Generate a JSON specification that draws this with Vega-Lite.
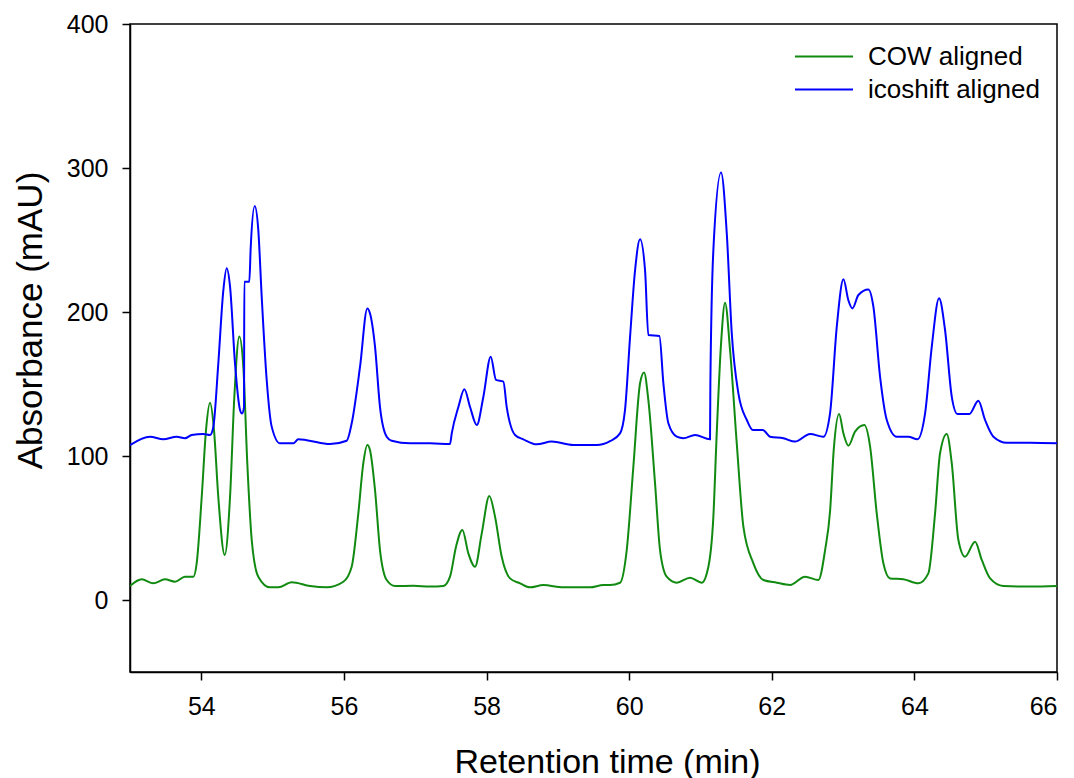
{
  "$schema": "https://vega.github.io/schema/vega-lite/v6.json",
  "autosize": "none",
  "width": 927,
  "height": 648,
  "padding": {"left": 130, "top": 24, "right": 17, "bottom": 106},
  "background": "white",
  "config": {
    "font": "Liberation Sans",
    "view": {"stroke": "black", "strokeWidth": 1.5},
    "axis": {
      "domainColor": "black", "domainWidth": 1.5,
      "tickColor": "black", "tickWidth": 1.5, "tickSize": 8,
      "labelColor": "black", "labelFontSize": 25, "labelFont": "Liberation Sans",
      "titleColor": "black", "titleFontWeight": "normal", "titleFont": "Liberation Sans",
      "grid": false
    },
    "legend": {"labelFont": "Liberation Sans"}
  },
  "data": {
    "values": [
      {"s": "COW aligned", "t": 53.0, "a": 9.7},
      {"s": "COW aligned", "t": 53.164, "a": 14.4},
      {"s": "COW aligned", "t": 53.327, "a": 11.6},
      {"s": "COW aligned", "t": 53.491, "a": 14.4},
      {"s": "COW aligned", "t": 53.631, "a": 12.7},
      {"s": "COW aligned", "t": 53.771, "a": 16.2},
      {"s": "COW aligned", "t": 53.888, "a": 16.2},
      {"s": "COW aligned", "t": 53.935, "a": 25.5},
      {"s": "COW aligned", "t": 54.006, "a": 71.7},
      {"s": "COW aligned", "t": 54.066, "a": 118},
      {"s": "COW aligned", "t": 54.122, "a": 137},
      {"s": "COW aligned", "t": 54.178, "a": 118},
      {"s": "COW aligned", "t": 54.238, "a": 71.7},
      {"s": "COW aligned", "t": 54.328, "a": 31.3},
      {"s": "COW aligned", "t": 54.403, "a": 71.7},
      {"s": "COW aligned", "t": 54.463, "a": 141},
      {"s": "COW aligned", "t": 54.533, "a": 182.9},
      {"s": "COW aligned", "t": 54.589, "a": 162},
      {"s": "COW aligned", "t": 54.645, "a": 95},
      {"s": "COW aligned", "t": 54.707, "a": 41.7},
      {"s": "COW aligned", "t": 54.799, "a": 16.2},
      {"s": "COW aligned", "t": 54.964, "a": 8.8},
      {"s": "COW aligned", "t": 55.08, "a": 8.8},
      {"s": "COW aligned", "t": 55.268, "a": 12.3},
      {"s": "COW aligned", "t": 55.525, "a": 9.7},
      {"s": "COW aligned", "t": 55.759, "a": 8.8},
      {"s": "COW aligned", "t": 55.992, "a": 12.7},
      {"s": "COW aligned", "t": 56.109, "a": 23.1},
      {"s": "COW aligned", "t": 56.202, "a": 60.2},
      {"s": "COW aligned", "t": 56.272, "a": 95},
      {"s": "COW aligned", "t": 56.328, "a": 107.6},
      {"s": "COW aligned", "t": 56.366, "a": 104},
      {"s": "COW aligned", "t": 56.436, "a": 76.4},
      {"s": "COW aligned", "t": 56.506, "a": 34.7},
      {"s": "COW aligned", "t": 56.6, "a": 13.9},
      {"s": "COW aligned", "t": 56.717, "a": 9.7},
      {"s": "COW aligned", "t": 56.973, "a": 9.9},
      {"s": "COW aligned", "t": 57.208, "a": 9.3},
      {"s": "COW aligned", "t": 57.394, "a": 9.7},
      {"s": "COW aligned", "t": 57.488, "a": 16.2},
      {"s": "COW aligned", "t": 57.572, "a": 37},
      {"s": "COW aligned", "t": 57.661, "a": 48.6},
      {"s": "COW aligned", "t": 57.745, "a": 32.4},
      {"s": "COW aligned", "t": 57.839, "a": 23.1},
      {"s": "COW aligned", "t": 57.933, "a": 46.3},
      {"s": "COW aligned", "t": 58.039, "a": 72.2},
      {"s": "COW aligned", "t": 58.119, "a": 57.9},
      {"s": "COW aligned", "t": 58.213, "a": 30},
      {"s": "COW aligned", "t": 58.329, "a": 15},
      {"s": "COW aligned", "t": 58.47, "a": 11.6},
      {"s": "COW aligned", "t": 58.61, "a": 8.8},
      {"s": "COW aligned", "t": 58.797, "a": 10.4},
      {"s": "COW aligned", "t": 59.077, "a": 8.8},
      {"s": "COW aligned", "t": 59.452, "a": 8.8},
      {"s": "COW aligned", "t": 59.638, "a": 10.4},
      {"s": "COW aligned", "t": 59.732, "a": 10.4},
      {"s": "COW aligned", "t": 59.872, "a": 12},
      {"s": "COW aligned", "t": 59.966, "a": 34.7},
      {"s": "COW aligned", "t": 60.059, "a": 92.6},
      {"s": "COW aligned", "t": 60.153, "a": 150.5},
      {"s": "COW aligned", "t": 60.209, "a": 157.9},
      {"s": "COW aligned", "t": 60.269, "a": 138.9},
      {"s": "COW aligned", "t": 60.363, "a": 81},
      {"s": "COW aligned", "t": 60.433, "a": 34.7},
      {"s": "COW aligned", "t": 60.527, "a": 16.2},
      {"s": "COW aligned", "t": 60.668, "a": 12},
      {"s": "COW aligned", "t": 60.854, "a": 15.5},
      {"s": "COW aligned", "t": 61.018, "a": 12},
      {"s": "COW aligned", "t": 61.111, "a": 23.1},
      {"s": "COW aligned", "t": 61.181, "a": 57.9},
      {"s": "COW aligned", "t": 61.228, "a": 115.7},
      {"s": "COW aligned", "t": 61.289, "a": 178.3},
      {"s": "COW aligned", "t": 61.345, "a": 206.5},
      {"s": "COW aligned", "t": 61.415, "a": 173.6},
      {"s": "COW aligned", "t": 61.509, "a": 108.8},
      {"s": "COW aligned", "t": 61.602, "a": 50.9},
      {"s": "COW aligned", "t": 61.742, "a": 25.5},
      {"s": "COW aligned", "t": 61.882, "a": 13.9},
      {"s": "COW aligned", "t": 62.07, "a": 12},
      {"s": "COW aligned", "t": 62.256, "a": 10.4},
      {"s": "COW aligned", "t": 62.467, "a": 16.2},
      {"s": "COW aligned", "t": 62.654, "a": 13.9},
      {"s": "COW aligned", "t": 62.748, "a": 34.7},
      {"s": "COW aligned", "t": 62.818, "a": 62},
      {"s": "COW aligned", "t": 62.87, "a": 105},
      {"s": "COW aligned", "t": 62.944, "a": 129.2},
      {"s": "COW aligned", "t": 63.005, "a": 115.7},
      {"s": "COW aligned", "t": 63.075, "a": 107.2},
      {"s": "COW aligned", "t": 63.168, "a": 116.9},
      {"s": "COW aligned", "t": 63.299, "a": 121.5},
      {"s": "COW aligned", "t": 63.379, "a": 106.5},
      {"s": "COW aligned", "t": 63.472, "a": 60.2},
      {"s": "COW aligned", "t": 63.565, "a": 25.5},
      {"s": "COW aligned", "t": 63.659, "a": 15},
      {"s": "COW aligned", "t": 63.845, "a": 14.4},
      {"s": "COW aligned", "t": 64.056, "a": 11.6},
      {"s": "COW aligned", "t": 64.196, "a": 18.5},
      {"s": "COW aligned", "t": 64.29, "a": 60.2},
      {"s": "COW aligned", "t": 64.36, "a": 101.9},
      {"s": "COW aligned", "t": 64.454, "a": 115.3},
      {"s": "COW aligned", "t": 64.524, "a": 95},
      {"s": "COW aligned", "t": 64.617, "a": 41.7},
      {"s": "COW aligned", "t": 64.711, "a": 30.1},
      {"s": "COW aligned", "t": 64.851, "a": 40.5},
      {"s": "COW aligned", "t": 64.945, "a": 27.8},
      {"s": "COW aligned", "t": 65.062, "a": 15},
      {"s": "COW aligned", "t": 65.248, "a": 9.7},
      {"s": "COW aligned", "t": 65.623, "a": 9.3},
      {"s": "COW aligned", "t": 66.0, "a": 9.7},

      {"s": "icoshift aligned", "t": 53.0, "a": 107.6},
      {"s": "icoshift aligned", "t": 53.28, "a": 113.4},
      {"s": "icoshift aligned", "t": 53.467, "a": 111.6},
      {"s": "icoshift aligned", "t": 53.655, "a": 113.4},
      {"s": "icoshift aligned", "t": 53.771, "a": 112.3},
      {"s": "icoshift aligned", "t": 53.865, "a": 114.6},
      {"s": "icoshift aligned", "t": 54.028, "a": 115.3},
      {"s": "icoshift aligned", "t": 54.122, "a": 114.6},
      {"s": "icoshift aligned", "t": 54.168, "a": 120},
      {"s": "icoshift aligned", "t": 54.238, "a": 164},
      {"s": "icoshift aligned", "t": 54.309, "a": 215},
      {"s": "icoshift aligned", "t": 54.356, "a": 230.3},
      {"s": "icoshift aligned", "t": 54.403, "a": 217.6},
      {"s": "icoshift aligned", "t": 54.473, "a": 164},
      {"s": "icoshift aligned", "t": 54.543, "a": 132},
      {"s": "icoshift aligned", "t": 54.571, "a": 129.6},
      {"s": "icoshift aligned", "t": 54.599, "a": 134},
      {"s": "icoshift aligned", "t": 54.603, "a": 221},
      {"s": "icoshift aligned", "t": 54.673, "a": 221},
      {"s": "icoshift aligned", "t": 54.693, "a": 245},
      {"s": "icoshift aligned", "t": 54.749, "a": 273.6},
      {"s": "icoshift aligned", "t": 54.799, "a": 257},
      {"s": "icoshift aligned", "t": 54.847, "a": 210.6},
      {"s": "icoshift aligned", "t": 54.917, "a": 152.8},
      {"s": "icoshift aligned", "t": 54.987, "a": 120.4},
      {"s": "icoshift aligned", "t": 55.104, "a": 108.8},
      {"s": "icoshift aligned", "t": 55.29, "a": 108.8},
      {"s": "icoshift aligned", "t": 55.36, "a": 111.6},
      {"s": "icoshift aligned", "t": 55.478, "a": 111},
      {"s": "icoshift aligned", "t": 55.805, "a": 108.3},
      {"s": "icoshift aligned", "t": 56.039, "a": 110.6},
      {"s": "icoshift aligned", "t": 56.109, "a": 122.7},
      {"s": "icoshift aligned", "t": 56.226, "a": 162},
      {"s": "icoshift aligned", "t": 56.328, "a": 202.5},
      {"s": "icoshift aligned", "t": 56.366, "a": 199},
      {"s": "icoshift aligned", "t": 56.436, "a": 176},
      {"s": "icoshift aligned", "t": 56.506, "a": 134},
      {"s": "icoshift aligned", "t": 56.6, "a": 113.4},
      {"s": "icoshift aligned", "t": 56.67, "a": 110.6},
      {"s": "icoshift aligned", "t": 56.927, "a": 108.8},
      {"s": "icoshift aligned", "t": 57.208, "a": 108.8},
      {"s": "icoshift aligned", "t": 57.488, "a": 108.3},
      {"s": "icoshift aligned", "t": 57.512, "a": 115.7},
      {"s": "icoshift aligned", "t": 57.605, "a": 134},
      {"s": "icoshift aligned", "t": 57.689, "a": 146.3},
      {"s": "icoshift aligned", "t": 57.769, "a": 134},
      {"s": "icoshift aligned", "t": 57.863, "a": 121.5},
      {"s": "icoshift aligned", "t": 57.955, "a": 141},
      {"s": "icoshift aligned", "t": 58.059, "a": 169},
      {"s": "icoshift aligned", "t": 58.133, "a": 152.8},
      {"s": "icoshift aligned", "t": 58.236, "a": 151.6},
      {"s": "icoshift aligned", "t": 58.283, "a": 134},
      {"s": "icoshift aligned", "t": 58.4, "a": 114.6},
      {"s": "icoshift aligned", "t": 58.516, "a": 111.6},
      {"s": "icoshift aligned", "t": 58.704, "a": 108.1},
      {"s": "icoshift aligned", "t": 58.914, "a": 110},
      {"s": "icoshift aligned", "t": 59.217, "a": 107.6},
      {"s": "icoshift aligned", "t": 59.546, "a": 107.6},
      {"s": "icoshift aligned", "t": 59.732, "a": 110.3},
      {"s": "icoshift aligned", "t": 59.872, "a": 115.7},
      {"s": "icoshift aligned", "t": 59.942, "a": 132},
      {"s": "icoshift aligned", "t": 60.013, "a": 182.9},
      {"s": "icoshift aligned", "t": 60.083, "a": 229},
      {"s": "icoshift aligned", "t": 60.153, "a": 250.5},
      {"s": "icoshift aligned", "t": 60.223, "a": 229},
      {"s": "icoshift aligned", "t": 60.269, "a": 184},
      {"s": "icoshift aligned", "t": 60.424, "a": 183.3},
      {"s": "icoshift aligned", "t": 60.48, "a": 150.5},
      {"s": "icoshift aligned", "t": 60.55, "a": 122.7},
      {"s": "icoshift aligned", "t": 60.668, "a": 113.4},
      {"s": "icoshift aligned", "t": 60.76, "a": 112.3},
      {"s": "icoshift aligned", "t": 60.924, "a": 114.6},
      {"s": "icoshift aligned", "t": 61.134, "a": 111.6},
      {"s": "icoshift aligned", "t": 61.139, "a": 150.5},
      {"s": "icoshift aligned", "t": 61.181, "a": 243},
      {"s": "icoshift aligned", "t": 61.289, "a": 296.8},
      {"s": "icoshift aligned", "t": 61.369, "a": 254.6},
      {"s": "icoshift aligned", "t": 61.439, "a": 185.2},
      {"s": "icoshift aligned", "t": 61.532, "a": 143.5},
      {"s": "icoshift aligned", "t": 61.65, "a": 125},
      {"s": "icoshift aligned", "t": 61.734, "a": 118},
      {"s": "icoshift aligned", "t": 61.874, "a": 118},
      {"s": "icoshift aligned", "t": 61.977, "a": 113.4},
      {"s": "icoshift aligned", "t": 62.163, "a": 112.3},
      {"s": "icoshift aligned", "t": 62.327, "a": 110},
      {"s": "icoshift aligned", "t": 62.538, "a": 115.3},
      {"s": "icoshift aligned", "t": 62.724, "a": 113.4},
      {"s": "icoshift aligned", "t": 62.818, "a": 130},
      {"s": "icoshift aligned", "t": 62.912, "a": 190},
      {"s": "icoshift aligned", "t": 63.005, "a": 222.7},
      {"s": "icoshift aligned", "t": 63.075, "a": 208},
      {"s": "icoshift aligned", "t": 63.131, "a": 202.5},
      {"s": "icoshift aligned", "t": 63.215, "a": 211.8},
      {"s": "icoshift aligned", "t": 63.355, "a": 215.7},
      {"s": "icoshift aligned", "t": 63.425, "a": 203.7},
      {"s": "icoshift aligned", "t": 63.519, "a": 155},
      {"s": "icoshift aligned", "t": 63.613, "a": 125},
      {"s": "icoshift aligned", "t": 63.753, "a": 113.4},
      {"s": "icoshift aligned", "t": 63.916, "a": 113.4},
      {"s": "icoshift aligned", "t": 64.042, "a": 111.6},
      {"s": "icoshift aligned", "t": 64.15, "a": 129.6},
      {"s": "icoshift aligned", "t": 64.244, "a": 176},
      {"s": "icoshift aligned", "t": 64.346, "a": 209.5},
      {"s": "icoshift aligned", "t": 64.43, "a": 187.5},
      {"s": "icoshift aligned", "t": 64.524, "a": 141.2},
      {"s": "icoshift aligned", "t": 64.603, "a": 129.2},
      {"s": "icoshift aligned", "t": 64.771, "a": 129.2},
      {"s": "icoshift aligned", "t": 64.897, "a": 138.4},
      {"s": "icoshift aligned", "t": 64.991, "a": 125},
      {"s": "icoshift aligned", "t": 65.108, "a": 113.4},
      {"s": "icoshift aligned", "t": 65.296, "a": 109.2},
      {"s": "icoshift aligned", "t": 65.623, "a": 109.2},
      {"s": "icoshift aligned", "t": 66.0, "a": 108.8}
    ]
  },
  "mark": {"type": "line", "interpolate": "monotone", "strokeWidth": 2, "clip": true},
  "encoding": {
    "x": {
      "field": "t", "type": "quantitative",
      "scale": {"domain": [53, 66], "nice": false, "zero": false},
      "axis": {
        "values": [54, 56, 58, 60, 62, 64, 66],
        "title": "Retention time (min)",
        "labelFontSize": 25,
        "labelPadding": 14,
        "titleFontSize": 34,
        "titleX": 477, "titleY": 90, "titleBaseline": "middle", "titleAnchor": null
      }
    },
    "y": {
      "field": "a", "type": "quantitative",
      "scale": {"domain": [-50, 400], "nice": false, "zero": false},
      "axis": {
        "values": [0, 100, 200, 300, 400],
        "title": "Absorbance (mAU)",
        "labelFontSize": 25,
        "labelPadding": 14,
        "titleFontSize": 35,
        "titleX": -100, "titleY": 296, "titleBaseline": "middle", "titleAngle": -90, "titleAlign": "center"
      }
    },
    "color": {
      "field": "s", "type": "nominal",
      "scale": {"domain": ["COW aligned", "icoshift aligned"], "range": ["#118a11", "#0000ff"]},
      "legend": {
        "title": null,
        "orient": "none",
        "legendX": 664, "legendY": 16,
        "padding": 0,
        "symbolType": "stroke",
        "symbolSize": 3364,
        "symbolStrokeWidth": 2,
        "labelFontSize": 26,
        "labelLimit": 0,
        "labelColor": "black",
        "labelOffset": 14,
        "clipHeight": 33,
        "rowPadding": 0
      }
    }
  }
}
